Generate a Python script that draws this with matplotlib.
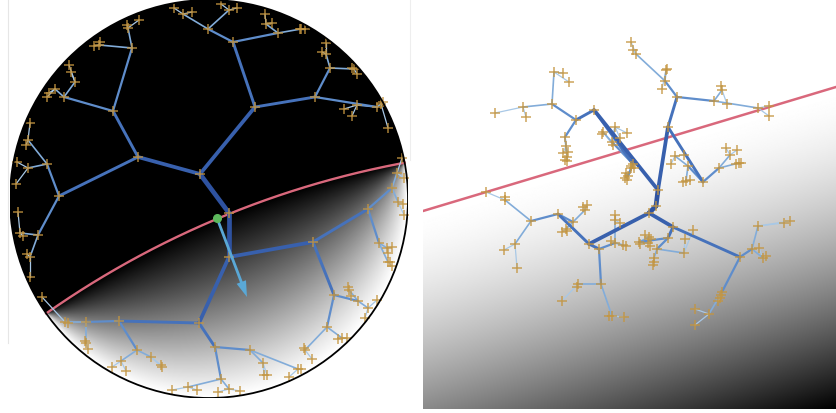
import numpy as np
import matplotlib.pyplot as plt
from matplotlib.patches import Circle
from matplotlib.collections import LineCollection
from matplotlib.lines import Line2D

# Tree layouts in heap order: the children of node i are 2i+1 and 2i+2.
# Canvas units, y grows downward.
hyp_nodes = np.array([
    (229, 213),
    (200, 174), (229, 257),
    (138, 157), (255, 107), (313, 242), (199, 323),
    (113, 111), (59, 196), (233, 42), (315, 97),
    (368, 209), (334, 295), (119, 321), (215, 347),
    (132, 48), (64, 97), (47, 164), (38, 235),
    (208, 29), (278, 33), (330, 68), (377, 107),
    (392, 188), (379, 243), (358, 301), (327, 327),
    (86, 322), (137, 350), (250, 350), (221, 379),
    (99, 45), (128, 28), (75, 82), (55, 89),
    (28, 140), (28, 168), (20, 233), (30, 257),
    (183, 14), (229, 10), (266, 24), (301, 29),
    (326, 54), (354, 69), (357, 105), (381, 104),
    (397, 173), (398, 202), (387, 248), (388, 262),
    (349, 290), (368, 308), (305, 350), (342, 338),
    (65, 322), (86, 343), (121, 361), (151, 357),
    (263, 363), (298, 369), (188, 387), (229, 389),
    (94, 46), (100, 42), (127, 25), (139, 20),
    (69, 65), (71, 72), (47, 97), (49, 93),
    (30, 123), (26, 145), (17, 162), (16, 184),
    (18, 212), (23, 236), (27, 254), (30, 277),
    (174, 8), (192, 12), (221, 4), (237, 8),
    (265, 14), (272, 23), (300, 29), (305, 29),
    (322, 52), (326, 43), (352, 68), (357, 74),
    (344, 109), (352, 116), (388, 128), (383, 102),
    (402, 158), (404, 178), (403, 204), (404, 215),
    (392, 247), (388, 253), (390, 262), (392, 266),
    (348, 287), (351, 296), (377, 300), (365, 318),
    (304, 348), (312, 359), (338, 339), (347, 338),
    (42, 297), (68, 323), (85, 341), (88, 349),
    (112, 367), (126, 371), (161, 365), (162, 367),
    (264, 375), (267, 375), (289, 377), (301, 369),
    (172, 390), (197, 390), (218, 392), (240, 391),
], dtype=float)

euc_nodes = np.array([
    (656, 206),
    (658, 190), (649, 213),
    (594, 110), (668, 127), (589, 244), (673, 227),
    (576, 120), (633, 164), (677, 97), (703, 182),
    (558, 214), (599, 249), (740, 257), (668, 238),
    (552, 104), (565, 137), (612, 142), (628, 176),
    (665, 81), (714, 101), (719, 168), (688, 166),
    (531, 221), (573, 222), (601, 284), (615, 243),
    (752, 249), (722, 292), (657, 249), (639, 242),
    (554, 72), (523, 107), (566, 146), (567, 157),
    (603, 132), (615, 127), (626, 173), (631, 168),
    (636, 54), (666, 70), (722, 90), (758, 108),
    (730, 155), (739, 163), (675, 156), (686, 181),
    (505, 200), (515, 244), (585, 210), (566, 229),
    (578, 284), (612, 316), (615, 220), (623, 245),
    (758, 226), (763, 258), (709, 314), (720, 298),
    (654, 258), (684, 253), (649, 237), (648, 243),
    (563, 73), (569, 82), (495, 113), (526, 117),
    (563, 153), (568, 152), (567, 161), (565, 160),
    (602, 134), (613, 145), (620, 138), (627, 133),
    (625, 178), (627, 180), (634, 168), (631, 166),
    (631, 42), (633, 50), (667, 69), (662, 89),
    (721, 86), (727, 104), (769, 106), (769, 116),
    (726, 148), (737, 150), (741, 163), (736, 164),
    (684, 155), (671, 164), (683, 182), (690, 180),
    (486, 192), (505, 197), (504, 250), (517, 268),
    (583, 207), (587, 205), (562, 232), (567, 231),
    (577, 287), (562, 301), (609, 316), (624, 317),
    (615, 215), (620, 223), (611, 241), (626, 246),
    (784, 223), (790, 221), (759, 248), (766, 256),
    (695, 309), (695, 325), (721, 295), (718, 301),
    (654, 262), (653, 265), (685, 239), (693, 230),
    (645, 235), (651, 239), (640, 244), (650, 246),
], dtype=float)

# Poincare disk and the separating geodesic (ideal end points in degrees)
disk_center = (209, 199)
disk_radius = 199
geodesic_ends = (-144.9, 10.5)
anchor = (217, 218)
normal_tip = (247, 297)

# Euclidean separating line
line_pts = np.array([(423, 211), (836, 87)], dtype=float)

depth_colors = ['#2e52a0', '#3860ad', '#4672bb', '#5f8dcb', '#82acd9', '#a8c8e6']
depth_widths = [3.4, 2.7, 2.1, 1.6, 1.2, 0.9]
cross_color = '#c4953f'
red = '#d9687c'


def draw_tree(ax, nodes):
    idx = np.arange(1, len(nodes))
    depth = np.floor(np.log2(idx + 1)).astype(int)
    for d in range(depth.max(), 0, -1):
        kids = idx[depth == d]
        segs = [[nodes[(k - 1) // 2], nodes[k]] for k in kids]
        ax.add_collection(LineCollection(segs, colors=depth_colors[d - 1],
                                         linewidths=depth_widths[d - 1],
                                         capstyle='round', zorder=3))
    ax.plot(nodes[:, 0], nodes[:, 1], '+', ls='none', ms=7.5, mew=1.1,
            color=cross_color, alpha=0.85, zorder=4)


fig = plt.figure(figsize=(8.36, 4.13), dpi=100)

# faint frame remnants around the disk panel
fig.add_artist(Line2D([8 / 836, 8 / 836], [1, 1 - 343 / 413], color='#e6e6e6', lw=0.8))
fig.add_artist(Line2D([410 / 836, 410 / 836], [1, 1 - 160 / 413], color='#eeeeee', lw=0.8))

# ---- hyperbolic panel ----
ax1 = fig.add_axes([10 / 836, 15 / 413, 398 / 836, 398 / 413])
cx, cy = disk_center
R = disk_radius
ax1.set_xlim(cx - R, cx + R)
ax1.set_ylim(cy + R, cy - R)
ax1.axis('off')

t1, t2 = np.radians(geodesic_ends)
half = (t2 - t1) / 2
mid = (t1 + t2) / 2
gc = np.array([np.cos(mid), np.sin(mid)]) / np.cos(half)
gr = np.tan(half)

xs = np.linspace(cx - R, cx + R, 700)
ys = np.linspace(cy - R, cy + R, 700)
X, Y = np.meshgrid(xs, ys)
u = (X - cx) / R
v = (cy - Y) / R
rr = np.clip(u ** 2 + v ** 2, 0, 0.99999)
sh = (2 * (u * gc[0] + v * gc[1]) - 1 - rr) / ((1 - rr) * gr)
shade = np.where(sh > 0, np.tanh(0.55 * np.arcsinh(np.maximum(sh, 0))), 0.0)
im = ax1.imshow(shade, cmap='gray', vmin=0, vmax=1, origin='upper',
                extent=(cx - R, cx + R, cy + R, cy - R), interpolation='bilinear')
clip = Circle(disk_center, R, transform=ax1.transData)
im.set_clip_path(clip)
ax1.add_patch(Circle(disk_center, R, fill=False, ec='black', lw=1.3, zorder=6))

a1 = np.arctan2(np.sin(t1) - gc[1], np.cos(t1) - gc[0])
a2 = np.arctan2(np.sin(t2) - gc[1], np.cos(t2) - gc[0])
phi = np.linspace(a1, a2, 200)
gu = gc[0] + gr * np.cos(phi)
gv = gc[1] + gr * np.sin(phi)
ax1.plot(cx + R * gu, cy - R * gv, color=red, lw=1.7, zorder=2)

draw_tree(ax1, hyp_nodes)

ax1.arrow(anchor[0], anchor[1], normal_tip[0] - anchor[0], normal_tip[1] - anchor[1],
          width=2.8, head_width=10, head_length=16, length_includes_head=True,
          color='#5aa8d6', lw=0, zorder=5)
ax1.plot(*anchor, 'o', color='#5cb85c', ms=5.5, zorder=6)

# ---- euclidean panel ----
ax2 = fig.add_axes([423 / 836, 4 / 413, 413 / 836, 409 / 413])
ax2.set_xlim(423, 836)
ax2.set_ylim(409, 0)
ax2.axis('off')

direction = (line_pts[1] - line_pts[0]) / np.linalg.norm(line_pts[1] - line_pts[0])
normal = np.array([-direction[1], direction[0]])
xs2 = np.linspace(423, 836, 600)
ys2 = np.linspace(0, 409, 600)
X2, Y2 = np.meshgrid(xs2, ys2)
dist = (X2 - line_pts[0, 0]) * normal[0] + (Y2 - line_pts[0, 1]) * normal[1]
dmax = (836 - line_pts[0, 0]) * normal[0] + (409 - line_pts[0, 1]) * normal[1]
shade2 = 1 - np.clip(dist / dmax, 0, 1) ** 1.6
ax2.imshow(shade2, cmap='gray', vmin=0, vmax=1, origin='upper',
           extent=(423, 836, 409, 0), interpolation='bilinear', aspect='auto')
ax2.plot(line_pts[:, 0], line_pts[:, 1], color=red, lw=1.8, zorder=2)

draw_tree(ax2, euc_nodes)

fig.savefig('out.png', dpi=100)
